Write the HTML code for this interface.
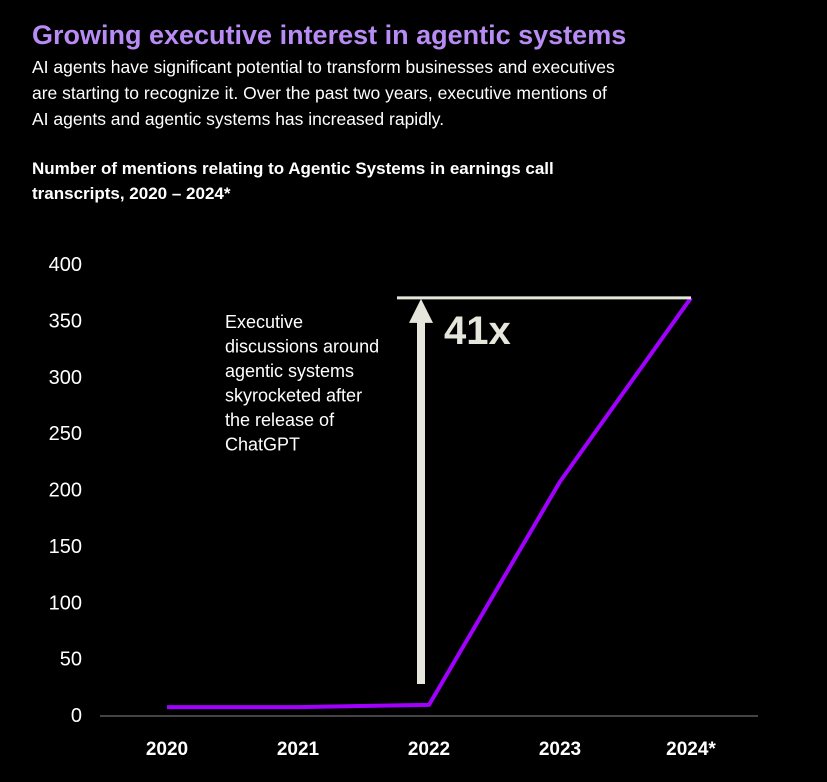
<!DOCTYPE html>
<html><head><meta charset="utf-8">
<style>
body{margin:0;background:#000;width:827px;height:782px;overflow:hidden;font-family:"Liberation Sans",sans-serif;color:#fff}
#title{position:absolute;left:32px;top:20px;font-size:27px;font-weight:bold;color:#b98cf5;margin:0}
#sub{position:absolute;left:32px;top:54px;font-size:17.5px;line-height:26px;width:590px}
#ct{position:absolute;left:32px;top:156px;font-size:17px;font-weight:bold;line-height:25px;width:600px}
svg{position:absolute;left:0;top:0}
</style></head><body>
<h1 id="title">Growing executive interest in agentic systems</h1>
<div id="sub">AI agents have significant potential to transform businesses and executives are starting to recognize it. Over the past two years, executive mentions of AI agents and agentic systems has increased rapidly.</div>
<div id="ct">Number of mentions relating to Agentic Systems in earnings call transcripts, 2020 – 2024*</div>
<svg id="chart" width="827" height="782"></svg>
<script>
const categories=["2020","2021","2022","2023","2024*"];
const mentions=[7,7,9,207,370];
const yTicks=[0,50,100,150,200,250,300,350,400];
const NS="http://www.w3.org/2000/svg";
const svg=document.getElementById("chart");
const x=i=>167+i*131;
const y=v=>715-v*(451/400);
function mk(t,a,txt){const e=document.createElementNS(NS,t);for(const k in a)e.setAttribute(k,a[k]);if(txt!==undefined)e.textContent=txt;svg.appendChild(e);return e;}
yTicks.forEach(v=>{const t=mk("text",{x:82,y:y(v)+7,"text-anchor":"end","font-size":"20",fill:"#fff","font-family":"Liberation Sans, sans-serif"},v);

});
const ax=mk("line",{x1:100,y1:716,x2:758,y2:716,stroke:"#888","stroke-width":1});


categories.forEach((c,i)=>{const t=mk("text",{x:x(i),y:755,"text-anchor":"middle","font-size":"19","font-weight":"bold",fill:"#fff","font-family":"Liberation Sans, sans-serif"},c);

});
const ln=mk("polyline",{points:mentions.map((v,i)=>x(i)+","+y(v)).join(" "),fill:"none",stroke:"#a100ff","stroke-width":4,"stroke-linejoin":"round"});


const peakY=y(mentions[mentions.length-1]);
const hl=mk("line",{x1:397,y1:peakY,x2:x(4),y2:peakY,stroke:"#e6e6dc","stroke-width":3});


const ar=mk("path",{d:`M417 684 L425 684 L425 ${peakY+25} L433 ${peakY+25} L421 ${peakY+1} L409 ${peakY+25} L417 ${peakY+25} Z`,fill:"#e6e6dc"});


const big=mk("text",{x:444,y:344,"font-size":"40","font-weight":"bold",fill:"#e6e6dc","font-family":"Liberation Sans, sans-serif"},"41x");


["Executive","discussions around","agentic systems","skyrocketed after","the release of","ChatGPT"].forEach((s,i)=>{const t=mk("text",{x:225,y:328+i*24.5,"font-size":"18",fill:"#fff","font-family":"Liberation Sans, sans-serif"},s);

});
</script>
</body></html>
